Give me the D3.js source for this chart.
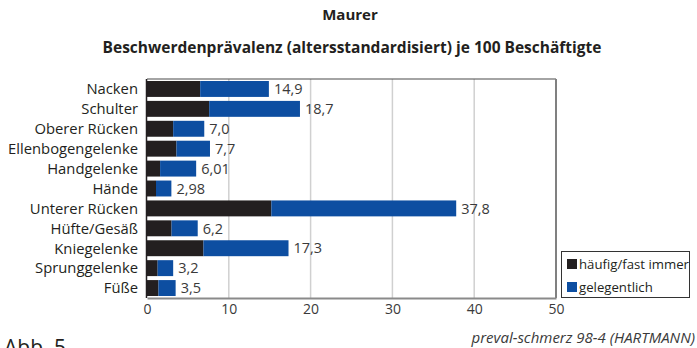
<!DOCTYPE html>
<html>
<head>
<meta charset="utf-8">
<script src="https://cdn.jsdelivr.net/npm/d3@7"></script>
<style>
  html, body { margin: 0; padding: 0; background: #fff; }
  svg { display: block; font-family: "Open Sans", "DejaVu Sans", sans-serif; }
</style>
</head>
<body>
<svg id="chart" width="697" height="348"></svg>
<script>
// Body regions (top to bottom)
const categories = ["Nacken", "Schulter", "Oberer Rücken", "Ellenbogengelenke", "Handgelenke",
  "Hände", "Unterer Rücken", "Hüfte/Gesäß", "Kniegelenke", "Sprunggelenke", "Füße"];
// Prevalence per 100 workers: frequent/almost always
const frequent = [6.5, 7.6, 3.2, 3.6, 1.6, 1.1, 15.2, 3.0, 6.9, 1.3, 1.4];
// Total prevalence (label values)
const totals = [14.9, 18.7, 7.0, 7.7, 6.01, 2.98, 37.8, 6.2, 17.3, 3.2, 3.5];
const totalLabels = ["14,9", "18,7", "7,0", "7,7", "6,01", "2,98", "37,8", "6,2", "17,3", "3,2", "3,5"];
// Occasional = total minus frequent
const occasional = totals.map((t, i) => +(t - frequent[i]).toFixed(2));
const seriesNames = ["häufig/fast immer", "gelegentlich"];
const xTicks = [0, 10, 20, 30, 40, 50];

const colors = ["#231f20", "#0d4ea1"];
const FONT = "'Open Sans', 'DejaVu Sans', sans-serif";
const svg = d3.select("#chart");
const m = { left: 147, right: 556, top: 79, bottom: 298 };

const x = d3.scaleLinear().domain([0, 50]).range([m.left, m.right]);
const y = d3.scaleBand().domain(categories).range([m.top, m.bottom]).paddingInner(0.2).paddingOuter(0.1);

// Titles
svg.append("text").attr("x", 350).attr("y", 20).attr("text-anchor", "middle")
  .attr("font-size", 15).attr("font-weight", "bold").attr("fill", "#231f20").text("Maurer");
svg.append("text").attr("x", 352).attr("y", 53).attr("text-anchor", "middle")
  .attr("font-size", 15.5).attr("font-weight", "bold").attr("fill", "#231f20")
  .text("Beschwerdenprävalenz (altersstandardisiert) je 100 Beschäftigte");

// Vertical gridlines
svg.append("g").selectAll("line").data(xTicks.filter(d => d > 0 && d < 50)).join("line")
  .attr("x1", d => x(d)).attr("x2", d => x(d))
  .attr("y1", m.top).attr("y2", m.bottom)
  .attr("stroke", "#d0d0d0").attr("stroke-width", 1.5);

// Plot frame: top and right
svg.append("line").attr("x1", m.left).attr("x2", m.right).attr("y1", m.top).attr("y2", m.top)
  .attr("stroke", "#4a4a4a").attr("stroke-width", 1.2);
svg.append("line").attr("x1", m.right).attr("x2", m.right).attr("y1", m.top).attr("y2", m.bottom)
  .attr("stroke", "#808080").attr("stroke-width", 2);

// Stacked bars
const stacked = d3.stack().keys([0, 1])((categories.map((c, i) => ({ cat: c, 0: frequent[i], 1: occasional[i] }))));
svg.append("g").selectAll("g").data(stacked).join("g")
  .attr("fill", (d, i) => colors[i])
  .selectAll("rect").data(d => d).join("rect")
  .attr("x", d => x(d[0]))
  .attr("width", d => x(d[1]) - x(d[0]))
  .attr("y", d => y(d.data.cat))
  .attr("height", y.bandwidth());

// Value labels
svg.append("g").selectAll("text").data(categories).join("text")
  .attr("x", (d, i) => x(totals[i]) + 5)
  .attr("y", d => y(d) + y.bandwidth() / 2)
  .attr("dy", "0.36em")
  .attr("font-size", 14.5).attr("fill", "#3a3a3a")
  .text((d, i) => totalLabels[i]);

// Category axis
svg.append("g").selectAll("text").data(categories).join("text")
  .attr("x", m.left - 9)
  .attr("y", d => y(d) + y.bandwidth() / 2)
  .attr("dy", "0.36em").attr("text-anchor", "end")
  .attr("font-size", 14.8).attr("fill", "#231f20")
  .text(d => d);
svg.append("line").attr("x1", m.left - 0.5).attr("x2", m.left - 0.5).attr("y1", m.top).attr("y2", m.bottom)
  .attr("stroke", "#231f20").attr("stroke-width", 1.5);

// Value axis
const xAxis = svg.append("g").attr("transform", `translate(0,${m.bottom})`)
  .call(d3.axisBottom(x).tickValues(xTicks).tickSize(0).tickPadding(6));
xAxis.select(".domain").attr("stroke", "#8a8a8a").attr("stroke-width", 2);
xAxis.selectAll("text").attr("font-size", 14).attr("fill", "#3a3a3a").attr("font-family", FONT);

// Legend
const lg = svg.append("g");
lg.append("rect").attr("x", 561.5).attr("y", 251.5).attr("width", 128).attr("height", 46)
  .attr("fill", "#fff").attr("stroke", "#333").attr("stroke-width", 1);
seriesNames.forEach((name, i) => {
  const yy = 264 + i * 23;
  lg.append("rect").attr("x", 567).attr("y", yy - 5).attr("width", 10).attr("height", 10).attr("fill", colors[i]);
  lg.append("text").attr("x", 579).attr("y", yy).attr("dy", "0.35em")
    .attr("font-size", 13.2).attr("fill", "#231f20").text(name);
});

// Source and figure number
svg.append("text").attr("x", 695).attr("y", 343).attr("text-anchor", "end")
  .attr("font-size", 15).attr("font-style", "italic").attr("fill", "#3a3a3a")
  .text("preval-schmerz 98-4 (HARTMANN)");
svg.append("text").attr("x", 4).attr("y", 355)
  .attr("font-size", 21).attr("fill", "#231f20").text("Abb. 5");
</script>
</body>
</html>
